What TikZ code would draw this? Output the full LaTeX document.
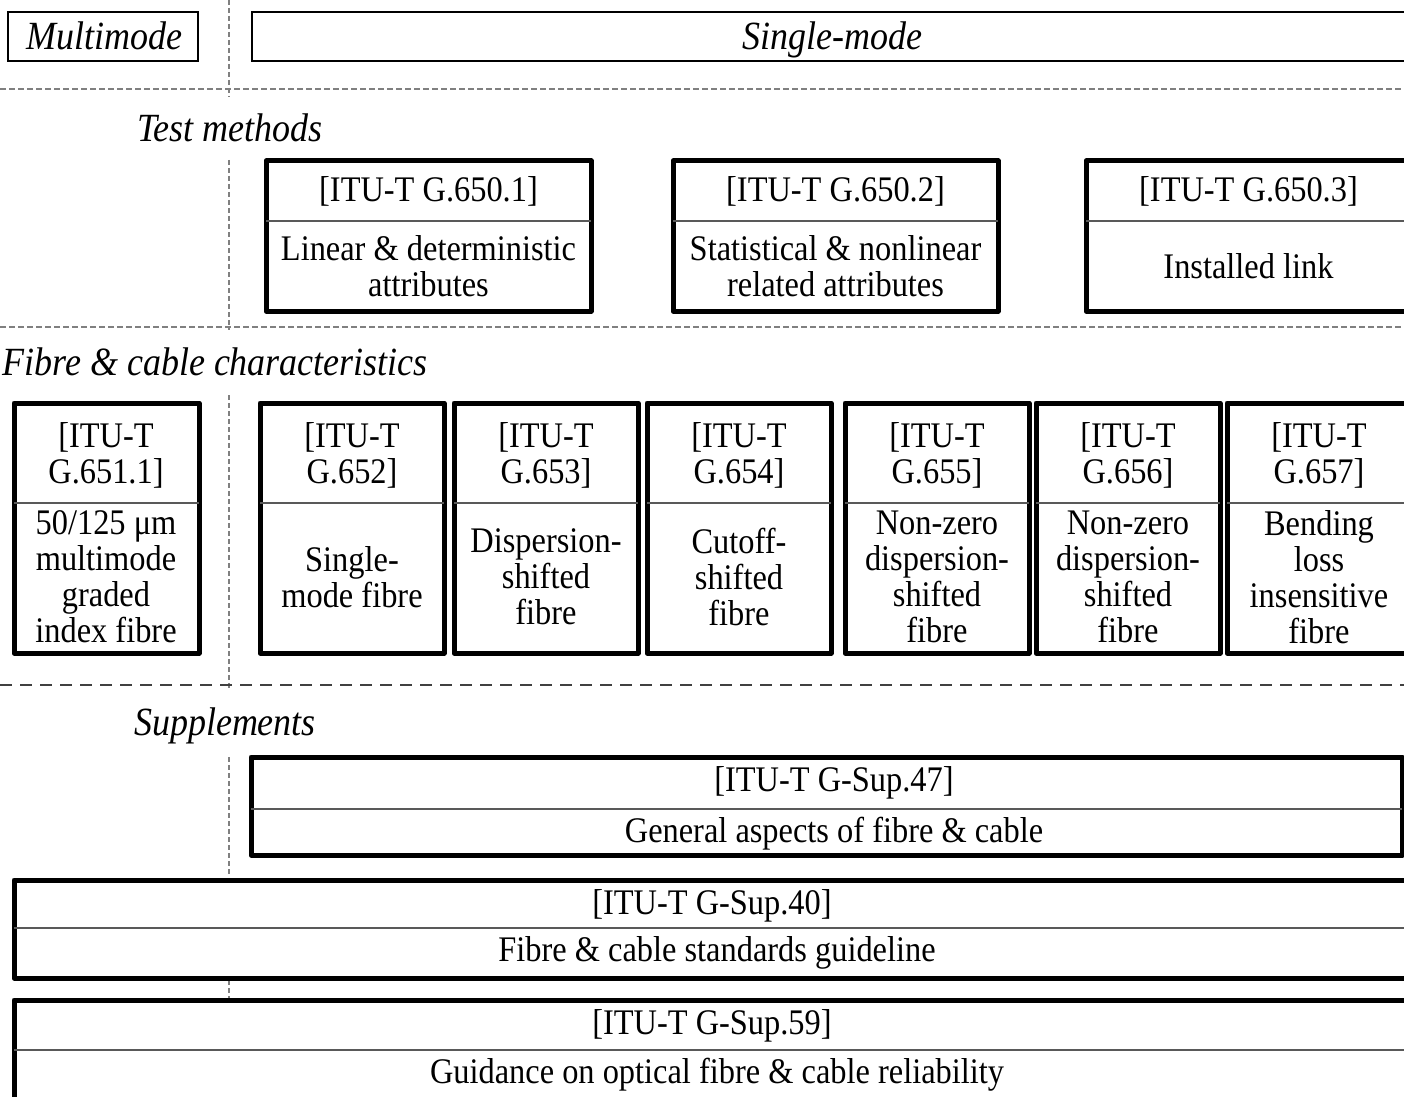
\documentclass[tikz,border=0pt]{standalone}
\usepackage{fontspec}
\setmainfont{Liberation Serif}[FakeStretch=0.9]

\tikzset{
  stdbox/.style={line width=2.5pt, line join=round},
  grpbox/.style={line width=1.3pt},
  cellrule/.style={line width=0.8pt, black!65},
  vsep/.style={gray, line width=0.9pt, dash pattern=on 2.5pt off 1.5pt},
  hsep/.style={gray, line width=0.9pt, dash pattern=on 3pt off 1.5pt},
  hsepdark/.style={black!75, line width=1.3pt, dash pattern=on 6pt off 4pt},
  heading/.style={inner sep=0pt, anchor=base, font=\fontsize{20}{20}\selectfont\itshape},
  boxtext/.style={inner sep=0pt, align=center, font=\fontsize{18}{18}\selectfont},
}

\begin{document}
\begin{tikzpicture}[x=0.5pt, y=-0.5pt]
  \useasboundingbox (0,0) rectangle (1404,1097);

  % separators
  \draw[vsep] (229,0) -- (229,97);
  \draw[vsep] (229,160) -- (229,330);
  \draw[vsep] (229,395) -- (229,690);
  \draw[vsep] (229,757) -- (229,877);
  \draw[vsep] (229,980) -- (229,998);
  \draw[hsep] (0,89) -- (1404,89);
  \draw[hsep] (0,327) -- (1404,327);
  \draw[hsepdark] (0,685) -- (1404,685);

  % fibre type
  \draw[grpbox] (8,12) rectangle (198,61);
  \draw[grpbox] (252,12) rectangle (1412,61);
  \node[heading] (multi) at (104,50) {Multimode};
  \node[heading] (single) at (832,50) {Single-mode};

  % test methods
  \node[heading] (tmhead) at (230,141) {Test methods};
  \foreach \x/\id/\desc in {266/1/{Linear \& deterministic\\attributes},
                            673/2/{Statistical \& nonlinear\\related attributes},
                            1086/3/{Installed link}} {
    \draw[stdbox] (\x,161) rectangle ++(325,150);
    \draw[cellrule] (\x,221) -- ++(325,0);
    \node[boxtext] (tm\id t) at (\x+162.5,191) {[ITU-T G.650.\id]};
    \node[boxtext] (tm\id d) at (\x+162.5,266) {\desc};
  }

  % fibre & cable characteristics
  \node[heading, anchor=base west] (fchead) at (2,375) {Fibre \& cable characteristics};
  \draw[stdbox] (14,403) rectangle (199,653);
  \draw[cellrule] (14,503) -- (199,503);
  \node[boxtext] (g651t) at (106,455) {[ITU-T\\G.651.1]};
  \node[boxtext] (g651d) at (106,577) {50/125 μm\\multimode\\graded\\index fibre};
  \foreach \x/\id/\desc in {260/652/{Single-\\mode fibre},
                            454/653/{Dispersion-\\shifted\\fibre},
                            647/654/{Cutoff-\\shifted\\fibre},
                            845/655/{Non-zero\\dispersion-\\shifted\\fibre},
                            1036/656/{Non-zero\\dispersion-\\shifted\\fibre},
                            1227/657/{Bending\\loss\\insensitive\\fibre}} {
    \draw[stdbox] (\x,403) rectangle ++(184,250);
    \draw[cellrule] (\x,503) -- ++(184,0);
    \node[boxtext] (g\id t) at (\x+92,455) {[ITU-T\\G.\id]};
    \node[boxtext] (g\id d) at (\x+92,577) {\desc};
  }

  % supplements
  \node[heading] (suphead) at (225,735) {Supplements};
  \draw[stdbox] (251,757) rectangle (1402,855);
  \draw[cellrule] (251,809) -- (1402,809);
  \node[boxtext] (sup47t) at (834,783) {[ITU-T G-Sup.47]};
  \node[boxtext] (sup47d) at (834,834) {General aspects of fibre \& cable};

  \draw[stdbox] (14,880) rectangle (1420,978);
  \draw[cellrule] (14,928) -- (1420,928);
  \node[boxtext] (sup40t) at (712,906) {[ITU-T G-Sup.40]};
  \node[boxtext] (sup40d) at (717,953) {Fibre \& cable standards guideline};

  \draw[stdbox] (14,1000) rectangle (1420,1112);
  \draw[cellrule] (14,1050) -- (1420,1050);
  \node[boxtext] (sup59t) at (712,1026) {[ITU-T G-Sup.59]};
  \node[boxtext] (sup59d) at (717,1075) {Guidance on optical fibre \& cable reliability};
\end{tikzpicture}
\end{document}
